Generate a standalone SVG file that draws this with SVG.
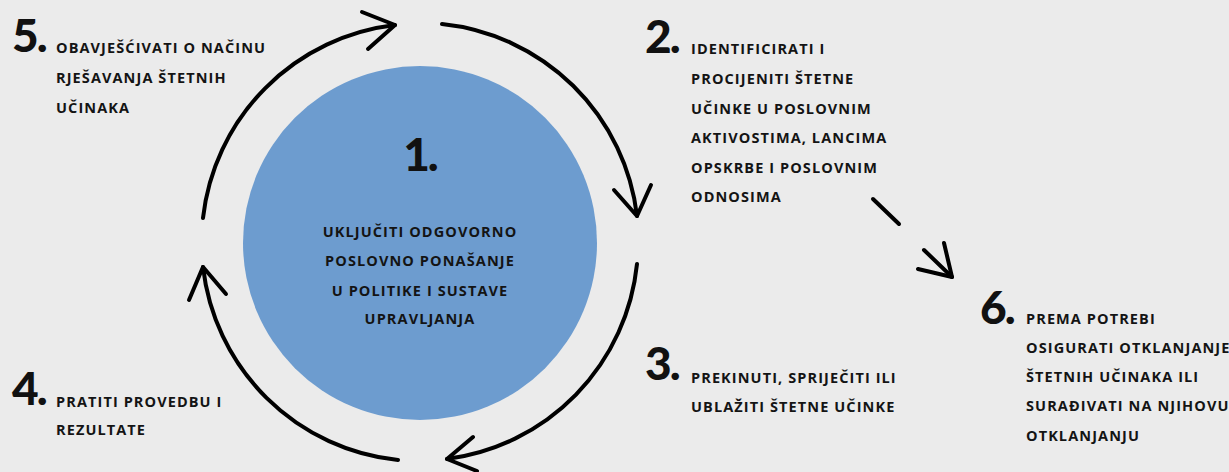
<svg xmlns="http://www.w3.org/2000/svg" width="1229" height="472" viewBox="0 0 1229 472">
<style>
.num{font-family:Lato,"Open Sans",sans-serif;font-weight:900;font-size:46px;fill:#111;letter-spacing:-2px}
.t{font-family:"Open Sans","Noto Sans",sans-serif;font-weight:700;font-size:14.5px;fill:#141414;letter-spacing:1.1px}
.ln{fill:none;stroke:#000;stroke-width:4;stroke-linecap:round;stroke-linejoin:round}
</style>
<rect width="1229" height="472" fill="#ebebeb"/>
<g id="node1">
<circle cx="420" cy="243" r="177" fill="#6d9ccf"/>
<text class="num" x="420" y="171" text-anchor="middle">1.</text>
<text class="t" text-anchor="middle"><tspan x="420" y="237">UKLJUČITI ODGOVORNO</tspan><tspan x="420" y="266">POSLOVNO PONAŠANJE</tspan><tspan x="420" y="296">U POLITIKE I SUSTAVE</tspan><tspan x="420" y="324">UPRAVLJANJA</tspan></text>
</g>
<g id="node2">
<text class="num" x="645" y="53">2.</text>
<text class="t"><tspan x="691" y="54">IDENTIFICIRATI I</tspan><tspan x="691" y="84">PROCIJENITI ŠTETNE</tspan><tspan x="691" y="114">UČINKE U POSLOVNIM</tspan><tspan x="691" y="143">AKTIVOSTIMA, LANCIMA</tspan><tspan x="691" y="173">OPSKRBE I POSLOVNIM</tspan><tspan x="691" y="202">ODNOSIMA</tspan></text>
</g>
<g id="node3">
<text class="num" x="645" y="380">3.</text>
<text class="t"><tspan x="691" y="383">PREKINUTI, SPRIJEČITI ILI</tspan><tspan x="691" y="412">UBLAŽITI ŠTETNE UČINKE</tspan></text>
</g>
<g id="node4">
<text class="num" x="12" y="405">4.</text>
<text class="t"><tspan x="56" y="407">PRATITI PROVEDBU I</tspan><tspan x="56" y="435">REZULTATE</tspan></text>
</g>
<g id="node5">
<text class="num" x="12" y="52">5.</text>
<text class="t"><tspan x="56" y="53">OBAVJEŠĆIVATI O NAČINU</tspan><tspan x="56" y="83">RJEŠAVANJA ŠTETNIH</tspan><tspan x="56" y="113">UČINAKA</tspan></text>
</g>
<g id="node6">
<text class="num" x="980" y="324">6.</text>
<text class="t"><tspan x="1026" y="324">PREMA POTREBI</tspan><tspan x="1026" y="353">OSIGURATI OTKLANJANJE</tspan><tspan x="1026" y="382">ŠTETNIH UČINAKA ILI</tspan><tspan x="1026" y="411">SURAĐIVATI NA NJIHOVU</tspan><tspan x="1026" y="441">OTKLANJANJU</tspan></text>
</g>
<g id="connectors">
<path class="ln" d="M 203 218 A 219 219 0 0 1 395 25"/>
<path class="ln" d="M 362 12 L 395 25 L 368 49"/>
<path class="ln" d="M 442 24 A 219 219 0 0 1 637 216"/>
<path class="ln" d="M 614 190 L 637 216 L 651 185"/>
<path class="ln" d="M 637 264 A 219 219 0 0 1 447 459"/>
<path class="ln" d="M 473 437 L 447 459 L 477 471"/>
<path class="ln" d="M 398 460 A 219 219 0 0 1 203 267"/>
<path class="ln" d="M 189 300 L 203 267 L 226 294"/>
<path class="ln" d="M 873 199 L 899 224"/>
<path class="ln" d="M 924 250 L 952 277"/>
<path class="ln" d="M 944 243 L 952 277 L 918 269"/>
</g>
</svg>
